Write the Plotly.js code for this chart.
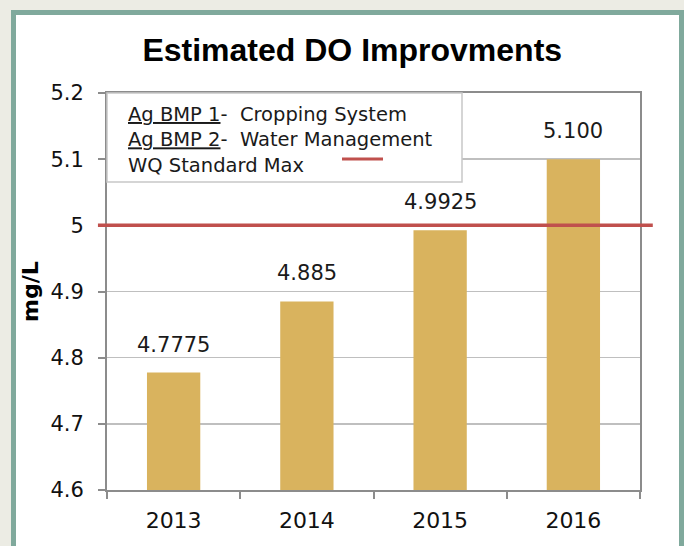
<!DOCTYPE html>
<html>
<head>
<meta charset="utf-8">
<script src="https://cdn.plot.ly/plotly-3.0.1.min.js"></script>
<style>
  html, body { margin:0; padding:0; background:#ecece4; width:684px; height:546px; overflow:hidden; }
  #frame { position:absolute; left:11px; top:10px; width:663px; height:560px; border:5px solid #80a99c; background:#ffffff; }
  #chart { position:absolute; left:0; top:0; width:684px; height:546px; }
</style>
</head>
<body>
<div id="frame"></div>
<div id="chart"></div>
<script>
const years = ['2013', '2014', '2015', '2016'];
const doValues = [4.7775, 4.885, 4.9925, 5.1];
const valueLabels = ['4.7775', '4.885', '4.9925', '5.100'];
const standardMax = 5;
const yTicks = [4.6, 4.7, 4.8, 4.9, 5, 5.1, 5.2];
const legendLines = ['<u>Ag BMP 1</u>-  Cropping System', '<u>Ag BMP 2</u>-  Water Management', 'WQ Standard Max'];

const FONT = 'DejaVu Sans, sans-serif';
const PW = 533, PH = 397;

const trace = {
  type: 'bar',
  x: years,
  y: doValues,
  marker: { color: '#d9b35e' },
  hoverinfo: 'x+y'
};

const annotations = years.map((yr, i) => ({
  x: i, y: doValues[i], xref: 'x', yref: 'y',
  text: valueLabels[i], showarrow: false,
  yanchor: 'bottom', yshift: 14,
  font: { family: FONT, size: 21, color: '#1a1a1a' }
}));

annotations.push({
  xref: 'paper', yref: 'paper', x: (126 - 107) / PW, y: (490 - 101) / PH, xanchor: 'left', yanchor: 'top',
  text: legendLines.join('<br>'), showarrow: false, align: 'left',
  font: { family: FONT, size: 19.5, color: '#1a1a1a' }
});

const layout = {
  width: 684, height: 546,
  paper_bgcolor: 'rgba(0,0,0,0)',
  plot_bgcolor: '#ffffff',
  margin: { l: 107, r: 44, t: 93, b: 56 },
  showlegend: false,
  bargap: 0.6,
  title: {
    text: '<b>Estimated DO Improvments</b>',
    x: 0.515, xanchor: 'center', y: 0.908, yanchor: 'middle',
    font: { family: 'Liberation Sans Narrow, Liberation Sans, sans-serif', size: 32, color: '#000000' }
  },
  xaxis: {
    type: 'category',
    categoryorder: 'array', categoryarray: years,
    range: [-0.5, 3.5], autorange: false,
    showline: true, linecolor: '#8c8c8c', linewidth: 2, mirror: true,
    ticks: 'outside', tickson: 'boundaries', ticklen: 7, tickcolor: '#8c8c8c', tickwidth: 2,
    ticklabelstandoff: 10,
    showgrid: false,
    tickfont: { family: FONT, size: 22, color: '#111111' }
  },
  yaxis: {
    range: [4.6, 5.2], autorange: false,
    tickvals: yTicks,
    showline: true, linecolor: '#8c8c8c', linewidth: 2, mirror: true,
    ticks: 'outside', ticklen: 7, tickcolor: '#8c8c8c', tickwidth: 2,
    ticklabelstandoff: 10,
    showgrid: true, gridcolor: '#bfbfbf', gridwidth: 1.5,
    zeroline: false,
    tickfont: { family: FONT, size: 21, color: '#111111' },
    title: { text: '<b>mg/L</b>', standoff: 6, font: { family: FONT, size: 22, color: '#000000' } }
  },
  shapes: [
    { type: 'rect', xref: 'paper', yref: 'paper', x0: 0, x1: (462 - 107) / PW, y0: (490 - 182) / PH, y1: 1,
      fillcolor: '#ffffff', line: { color: '#c8c8c8', width: 1.5 }, layer: 'above' },
    { type: 'line', xref: 'paper', yref: 'y', x0: -0.017, x1: 1.024, y0: standardMax, y1: standardMax,
      line: { color: '#c0504d', width: 3.5 } },
    { type: 'line', xref: 'paper', yref: 'paper', x0: (342 - 107) / PW, x1: (383 - 107) / PW, y0: (490 - 159) / PH, y1: (490 - 159) / PH,
      line: { color: '#c0504d', width: 3 }, layer: 'above' }
  ],
  annotations: annotations
};

Plotly.newPlot('chart', [trace], layout, { displayModeBar: false, staticPlot: true });
</script>
</body>
</html>
